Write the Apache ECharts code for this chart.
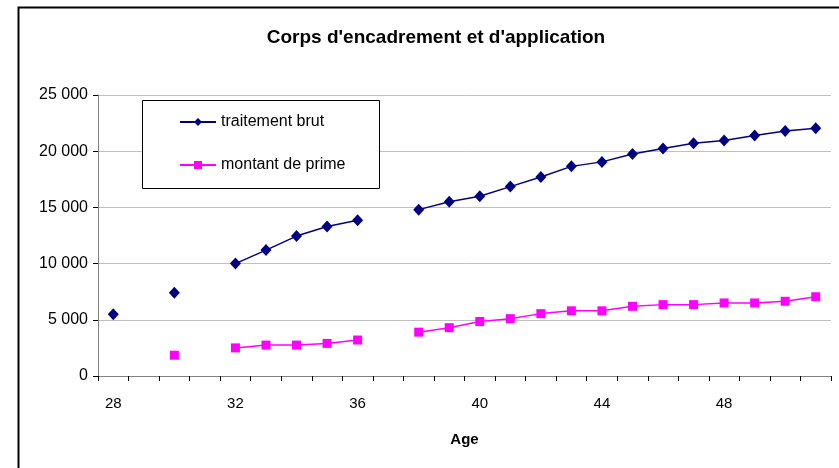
<!DOCTYPE html>
<html>
<head>
<meta charset="utf-8">
<script src="https://cdn.jsdelivr.net/npm/echarts@6/dist/echarts.min.js"></script>
<style>
  html, body { margin: 0; padding: 0; background: #fff; }
  #chart { width: 839px; height: 468px; }
</style>
</head>
<body>
<div id="chart"></div>
<script>
// ages 28..51, gaps where no value
var ages = ['28','29','30','31','32','33','34','35','36','37','38','39',
            '40','41','42','43','44','45','46','47','48','49','50','51'];
var traitementBrut = [5500, null, 7400, null, 10000, 11200, 12450, 13300, 13850, null, 14800, 15500,
                      16000, 16850, 17700, 18650, 19050, 19750, 20250, 20700, 20950, 21400, 21800, 22050];
var montantPrime = [null, null, 1850, null, 2500, 2750, 2750, 2900, 3200, null, 3900, 4300,
                    4850, 5100, 5550, 5800, 5800, 6200, 6350, 6350, 6500, 6500, 6650, 7050];
var yTicks = [0, 5000, 10000, 15000, 20000, 25000];

var chart = echarts.init(document.getElementById('chart'));

function fmt(v) {
  // french thousands separator
  var s = String(v);
  return s.length > 3 ? s.slice(0, s.length - 3) + ' ' + s.slice(-3) : s;
}

var option = {
  backgroundColor: '#ffffff',
  animation: false,
  textStyle: { fontFamily: 'Liberation Sans, Arial, sans-serif' },
  title: {
    text: "Corps d'encadrement et d'application",
    left: 431, textAlign: 'center', top: 23,
    textStyle: { fontSize: 19, fontWeight: 'bold', color: '#000' }
  },
  graphic: [
    { type: 'polyline', shape: { points: [[18.5, 470], [18.5, 7.5], [840, 7.5]] },
      style: { stroke: '#000', lineWidth: 2, fill: null } },
    { type: 'rect', shape: { x: 142.5, y: 100.5, width: 237, height: 88 },
      style: { stroke: '#000', lineWidth: 1, fill: '#fff' }, z: 5 }
  ],
  legend: {
    orient: 'vertical',
    left: 174, top: 109,
    itemWidth: 36, itemHeight: 10, itemGap: 27,
    z: 10,
    textStyle: { fontSize: 16, color: '#000' },
    data: ['traitement brut', 'montant de prime']
  },
  grid: { left: 98, right: 8, top: 95, bottom: 92 },
  xAxis: {
    type: 'category',
    data: ages,
    boundaryGap: true,
    name: 'Age', nameLocation: 'middle', nameGap: 56,
    nameTextStyle: { fontSize: 15, fontWeight: 'bold', color: '#000' },
    axisLine: { lineStyle: { color: '#808080', width: 1 } },
    axisTick: { show: true, interval: 0, length: 5, lineStyle: { color: '#000' } },
    axisLabel: { interval: 3, fontSize: 15, color: '#000', margin: 20 },
    splitLine: { show: false }
  },
  yAxis: {
    type: 'value',
    min: 0, max: yTicks[yTicks.length - 1], interval: 5000,
    axisLine: { show: true, lineStyle: { color: '#808080' } },
    axisTick: { show: true, inside: false, length: 5, lineStyle: { color: '#000' } },
    axisLabel: { fontSize: 16, color: '#000', margin: 10, formatter: fmt },
    splitLine: { lineStyle: { color: '#c0c0c0', width: 1 } }
  },
  series: [
    {
      name: 'traitement brut', type: 'line', data: traitementBrut,
      symbol: 'diamond', symbolSize: [11, 12], showAllSymbol: true,
      connectNulls: false,
      itemStyle: { color: '#000080' },
      lineStyle: { color: '#000080', width: 1.5 }
    },
    {
      name: 'montant de prime', type: 'line', data: montantPrime,
      symbol: 'rect', symbolSize: 9, showAllSymbol: true,
      connectNulls: false,
      itemStyle: { color: '#ff00ff' },
      lineStyle: { color: '#ff00ff', width: 1.5 }
    }
  ]
};

chart.setOption(option);
</script>
</body>
</html>
